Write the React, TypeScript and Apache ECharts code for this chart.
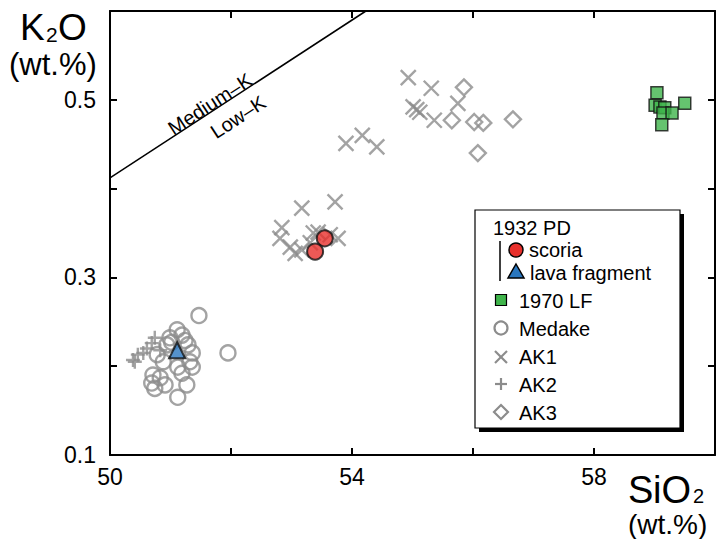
import React, { useEffect, useRef } from 'react';
import * as echarts from 'echarts';

// SiO2 (wt.%), K2O (wt.%)
const medake: number[][] = [
  [51.47, 0.257], [51.95, 0.215], [51.11, 0.241], [51.19, 0.235], [50.99, 0.232],
  [50.94, 0.224], [51.29, 0.224], [51.36, 0.215], [51.32, 0.205], [51.36, 0.199],
  [51.12, 0.199], [51.19, 0.192], [50.71, 0.19], [50.83, 0.187], [50.69, 0.181],
  [50.74, 0.175], [50.91, 0.179], [51.27, 0.179], [51.12, 0.165], [50.88, 0.205],
  [50.78, 0.213], [51.24, 0.229], [51.02, 0.227],
];
const ak1: number[][] = [
  [54.93, 0.525], [55.31, 0.513], [55.07, 0.489], [55.01, 0.492], [55.12, 0.486],
  [55.36, 0.477], [55.75, 0.496], [53.9, 0.451], [54.17, 0.46], [54.41, 0.447],
  [53.17, 0.378], [53.72, 0.385], [52.84, 0.356], [52.81, 0.344], [52.98, 0.334],
  [53.06, 0.327], [53.17, 0.331], [53.36, 0.35], [53.44, 0.351], [53.64, 0.348],
  [53.77, 0.344], [53.31, 0.339],
];
const ak2: number[][] = [
  [50.38, 0.207], [50.46, 0.213], [50.61, 0.22], [50.69, 0.226], [50.74, 0.232],
  [50.55, 0.215], [50.83, 0.218], [50.41, 0.205],
];
const ak3: number[][] = [
  [55.85, 0.514], [55.65, 0.477], [56.02, 0.475], [56.17, 0.474], [56.66, 0.478],
  [56.08, 0.44],
];
const lf1970: number[][] = [
  [59.04, 0.508], [59.5, 0.496], [59.01, 0.494], [59.09, 0.492], [59.17, 0.491],
  [59.14, 0.485], [59.29, 0.485], [59.12, 0.472],
];
const pdScoria: number[][] = [[53.55, 0.344], [53.39, 0.329]];
const pdLava: number[][] = [[51.11, 0.218]];
const boundary: number[][] = [[50, 0.412], [54.23, 0.6]];

const xTickLabels = [50, 54, 58];
const yTickLabels = [0.1, 0.3, 0.5];

const FONT = '"Liberation Sans", Arial, Helvetica, sans-serif';
const GRAY = '#8c8c8c';
const RED = '#e8302c';
const GREEN = '#3fb44b';
const BLUE = '#2a77bf';

const X_PATH = 'path://M0,0L10,10M10,0L0,10';
const PLUS_PATH = 'path://M5,0L5,10M0,5L10,5';

export default function App() {
  const ref = useRef<HTMLDivElement>(null);

  useEffect(() => {
    document.body.style.margin = '0';
    if (!ref.current) return;
    const chart = echarts.init(ref.current, undefined, { renderer: 'svg' });

    const axisCommon = {
      type: 'value' as const,
      axisLine: { show: true, onZero: false, lineStyle: { color: '#000', width: 2 } },
      axisTick: { show: true, inside: true, length: 7, lineStyle: { color: '#000', width: 2 } },
      splitLine: { show: false },
    };

    const txt = (text: string, x: number, y: number, size: number, extra: any = {}) => ({
      type: 'text',
      x,
      y,
      ...extra,
      style: {
        text,
        fontSize: size,
        fontFamily: FONT,
        fill: '#000',
        textAlign: extra.align || 'left',
        align: extra.align || 'left',
        textVerticalAlign: 'middle',
        verticalAlign: 'middle',
      },
    });

    const lx = 501;
    const FS = 20;
    const legendGraphics: any[] = [
      { type: 'rect', shape: { x: 479, y: 214, width: 205, height: 218 }, style: { fill: '#000' } },
      { type: 'rect', shape: { x: 475, y: 210, width: 205, height: 218 }, style: { fill: '#fff', stroke: '#000', lineWidth: 1.2 } },
      txt('1932 PD', 493, 228, FS),
      { type: 'line', shape: { x1: 500, y1: 241, x2: 500, y2: 281 }, style: { stroke: '#000', lineWidth: 1.5 } },
      { type: 'circle', shape: { cx: 516, cy: 250, r: 7 }, style: { fill: RED, stroke: '#000', lineWidth: 1.5 } },
      txt('scoria', 529, 250, FS),
      { type: 'polygon', shape: { points: [[516, 264], [524, 278], [508, 278]] }, style: { fill: BLUE, stroke: '#000', lineWidth: 1.5 } },
      txt('lava fragment', 530, 273, FS),
      { type: 'rect', shape: { x: lx - 5.5, y: 294.5, width: 11, height: 11 }, style: { fill: GREEN, stroke: '#000', lineWidth: 1.2 } },
      txt('1970 LF', 519, 301, FS),
      { type: 'circle', shape: { cx: lx, cy: 328, r: 6.5 }, style: { fill: 'none', stroke: GRAY, lineWidth: 2.2 } },
      txt('Medake', 519, 329, FS),
      { type: 'line', shape: { x1: lx - 6, y1: 351, x2: lx + 6, y2: 363 }, style: { stroke: GRAY, lineWidth: 2.2 } },
      { type: 'line', shape: { x1: lx + 6, y1: 351, x2: lx - 6, y2: 363 }, style: { stroke: GRAY, lineWidth: 2.2 } },
      txt('AK1', 519, 357, FS),
      { type: 'line', shape: { x1: lx, y1: 378, x2: lx, y2: 390 }, style: { stroke: GRAY, lineWidth: 2.2 } },
      { type: 'line', shape: { x1: lx - 6, y1: 384, x2: lx + 6, y2: 384 }, style: { stroke: GRAY, lineWidth: 2.2 } },
      txt('AK2', 519, 385, FS),
      { type: 'polygon', shape: { points: [[lx, 405], [lx + 7, 412], [lx, 419], [lx - 7, 412]] }, style: { fill: 'none', stroke: GRAY, lineWidth: 2.2 } },
      txt('AK3', 519, 413, FS),
    ];

    const rot = (33 * Math.PI) / 180;
    const titleGraphics: any[] = [
      txt('K', 20, 27, 37),
      txt('2', 46, 34, 21),
      txt('O', 58, 27, 37),
      txt('(wt.%)', 9, 64, 31),
      txt('S', 628, 490, 38),
      txt('iO', 653, 490, 38),
      txt('2', 693, 496, 20),
      txt('(wt.%)', 628, 524, 28),
      txt('Medium\u2013K', 210, 104, 20, { rotation: rot, align: 'center' }),
      txt('Low\u2013K', 238, 117, 20, { rotation: rot, align: 'center' }),
    ];

    chart.setOption({
      animation: false,
      grid: { left: 110, right: 5, top: 11, bottom: 84 },
      xAxis: [
        {
          ...axisCommon,
          min: 50,
          max: 60,
          interval: 2,
          position: 'bottom',
          axisLabel: {
            formatter: (v: number) => (xTickLabels.includes(Math.round(v)) ? String(Math.round(v)) : ''),
            fontSize: 23,
            fontFamily: FONT,
            color: '#000',
            margin: 10,
          },
        },
        { ...axisCommon, min: 50, max: 60, interval: 2, position: 'top', axisLabel: { show: false } },
      ],
      yAxis: [
        {
          ...axisCommon,
          min: 0.1,
          max: 0.6,
          interval: 0.1,
          position: 'left',
          axisLabel: {
            formatter: (v: number) => {
              const r = Math.round(v * 10) / 10;
              return yTickLabels.includes(r) ? r.toFixed(1) : '';
            },
            fontSize: 23,
            fontFamily: FONT,
            color: '#000',
            margin: 14,
          },
        },
        { ...axisCommon, min: 0.1, max: 0.6, interval: 0.1, position: 'right', axisLabel: { show: false } },
      ],
      series: [
        {
          type: 'line',
          data: boundary,
          symbol: 'none',
          lineStyle: { color: '#000', width: 1.5 },
          silent: true,
        },
        {
          name: 'Medake',
          type: 'scatter',
          data: medake,
          symbol: 'circle',
          symbolSize: 15,
          itemStyle: { color: 'rgba(0,0,0,0)', borderColor: GRAY, borderWidth: 2.4 },
        },
        {
          name: 'AK2',
          type: 'scatter',
          data: ak2,
          symbol: PLUS_PATH,
          symbolSize: 14,
          itemStyle: { color: 'rgba(0,0,0,0)', borderColor: GRAY, borderWidth: 2.4 },
        },
        {
          name: 'AK1',
          type: 'scatter',
          data: ak1,
          symbol: X_PATH,
          symbolSize: 15,
          itemStyle: { color: 'rgba(0,0,0,0)', borderColor: GRAY, borderWidth: 2.4 },
        },
        {
          name: 'AK3',
          type: 'scatter',
          data: ak3,
          symbol: 'diamond',
          symbolSize: 16,
          itemStyle: { color: 'rgba(0,0,0,0)', borderColor: GRAY, borderWidth: 2.4 },
        },
        {
          name: '1970 LF',
          type: 'scatter',
          data: lf1970,
          symbol: 'rect',
          symbolSize: 12,
          itemStyle: { color: GREEN, borderColor: '#111', borderWidth: 1.5 },
        },
        {
          name: 'scoria',
          type: 'scatter',
          data: pdScoria,
          symbol: 'circle',
          symbolSize: 16,
          itemStyle: { color: RED, borderColor: '#111', borderWidth: 2 },
        },
        {
          name: 'lava fragment',
          type: 'scatter',
          data: pdLava,
          symbol: 'triangle',
          symbolSize: 16,
          itemStyle: { color: BLUE, borderColor: '#111', borderWidth: 2 },
        },
      ],
      graphic: [...titleGraphics, ...legendGraphics],
    });

    return () => chart.dispose();
  }, []);

  return <div ref={ref} style={{ width: 720, height: 539 }} />;
}
